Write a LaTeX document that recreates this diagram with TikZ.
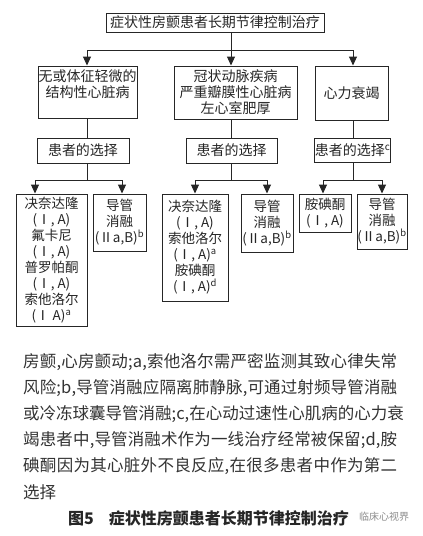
\documentclass[tikz,border=0pt]{standalone}
\usepackage{fontspec}
\setmainfont{Noto Sans CJK SC}
\usetikzlibrary{arrows.meta}
\def\myspread#1{\myspreadaux#1\relax}
\def\myspreadaux#1#2\relax{#1\myspreadi#2\relax}
\def\myspreadi#1{\ifx#1\relax\else\hskip0pt plus 1fil#1\expandafter\myspreadi\fi}
\tikzset{
 bx/.style={draw=black!85, line width=1pt, inner sep=0pt, align=center, text=black!85},
 midtxt/.style={font=\fontsize{14}{16}\selectfont},
 leaftxt/.style={font=\fontsize{13.5}{16}\selectfont},
 conn/.style={line width=1pt, draw=black!85},
 arr/.style={conn, -{Triangle[width=8pt,length=9pt]}},
 para/.style={anchor=west, inner sep=0pt, font=\fontsize{16.5}{20}\selectfont, text=black!80}
}
\begin{document}
\begin{tikzpicture}[x=1pt,y=-1pt]
\fill[white] (0,0) rectangle (423,536);
\useasboundingbox (0,0) rectangle (423,536);
% top
\node[bx,midtxt,minimum width=218pt,minimum height=19pt] (top) at (215,22.5) {症状性房颤患者长期节律控制治疗};
% middle boxes
\node[bx,midtxt,minimum width=99pt,minimum height=52pt] (m1) at (87.5,92) {无或体征轻微的\\结构性心脏病\\\mbox{}};
\node[bx,midtxt,minimum width=123pt,minimum height=53pt] (m2) at (235.5,92.5) {冠状动脉疾病\\严重瓣膜性心脏病\\左心室肥厚};
\node[bx,midtxt,minimum width=73pt,minimum height=54pt] (m3) at (351.5,93) {心力衰竭};
% choice boxes
\node[bx,midtxt,minimum width=92pt,minimum height=25pt] (p1) at (83,150.5) {患者的选择};
\node[bx,midtxt,minimum width=91pt,minimum height=25pt] (p2) at (231.5,150.5) {患者的选择};
\node[bx,midtxt,minimum width=75pt,minimum height=24pt] (p3) at (352.5,150) {患者的选择\textsuperscript{c}};
% leaves
\node[bx,leaftxt,minimum width=71pt,minimum height=132pt] (l1a) at (51.5,260) {决奈达隆\\(Ⅰ, A)\\氟卡尼\\(Ⅰ, A)\\普罗帕酮\\(Ⅰ, A)\\索他洛尔\\(Ⅰ A)\textsuperscript{a}};
\node[bx,leaftxt,minimum width=53pt,minimum height=57pt] (l1b) at (119.5,222.5) {导管\\消融\\(Ⅱa,B)\textsuperscript{b}};
\node[bx,leaftxt,minimum width=66pt,minimum height=107pt] (l2a) at (195,247.5) {决奈达隆\\(Ⅰ, A)\\索他洛尔\\(Ⅰ, A)\textsuperscript{a}\\胺碘酮\\(Ⅰ, A)\textsuperscript{d}};
\node[bx,leaftxt,minimum width=52pt,minimum height=58pt] (l2b) at (267,223) {导管\\消融\\(Ⅱa,B)\textsuperscript{b}};
\node[bx,leaftxt,minimum width=52pt,minimum height=38pt] (l3a) at (325,213) {胺碘酮\\(Ⅰ, A)};
\node[bx,leaftxt,minimum width=50pt,minimum height=55pt] (l3b) at (382,221.5) {导管\\消融\\(Ⅱa,B)\textsuperscript{b}};
% first bus
\coordinate (b1) at (87,50);
\coordinate (b0) at (231,50);
\coordinate (b3) at (353,50);
\draw[conn] (top.south -| b0) -- (b0);
\draw[conn] (b1) -- (b3);
\draw[arr] (b1) -- (b1 |- m1.north);
\draw[arr] (b0) -- (b0 |- m2.north);
\draw[arr] (b3) -- (b3 |- m3.north);
\draw[conn] (b1 |- m1.south) -- (b1 |- p1.north);
\draw[conn] (b0 |- m2.south) -- (b0 |- p2.north);
\draw[conn] (b3 |- m3.south) -- (b3 |- p3.north);
% second buses
\coordinate (s1) at (87,180);
\coordinate (s1a) at (35,180);
\coordinate (s1b) at (122,180);
\coordinate (s2) at (231,180);
\coordinate (s2a) at (195,180);
\coordinate (s2b) at (267,180);
\coordinate (s3) at (353,180);
\coordinate (s3a) at (323,180);
\coordinate (s3b) at (382,180);
\draw[conn] (s1 |- p1.south) -- (s1);
\draw[conn] (s1a) -- (s1b);
\draw[arr] (s1a) -- (s1a |- l1a.north);
\draw[arr] (s1b) -- (s1b |- l1b.north);
\draw[conn] (s2 |- p2.south) -- (s2);
\draw[conn] (s2a) -- (s2b);
\draw[arr] (s2a) -- (s2a |- l2a.north);
\draw[arr] (s2b) -- (s2b |- l2b.north);
\draw[conn] (s3 |- p3.south) -- (s3);
\draw[conn] (s3a) -- (s3b);
\draw[arr] (s3a) -- (s3a |- l3a.north);
\draw[arr] (s3b) -- (s3b |- l3b.north);
% notes
\node[para] (t1) at (23,362) {\hbox to 374pt{\myspread{房颤,心房颤动;a,索他洛尔需严密监测其致心律失常}}};
\node[para] (t2) at (23,388) {\hbox to 374pt{\myspread{风险;b,导管消融应隔离肺静脉,可通过射频导管消融}}};
\node[para] (t3) at (23,414) {\hbox to 374pt{\myspread{或冷冻球囊导管消融;c,在心动过速性心肌病的心力衰}}};
\node[para] (t4) at (23,440) {\hbox to 374pt{\myspread{竭患者中,导管消融术作为一线治疗经常被保留;d,胺}}};
\node[para] (t5) at (23,466) {\hbox to 374pt{\myspread{碘酮因为其心脏外不良反应,在很多患者中作为第二}}};
\node[para] (t6) at (23,492) {选择};
% caption
\node[anchor=west,inner sep=0pt,font=\fontsize{16}{18}\selectfont\bfseries,text=black!85] (cap) at (68,518) {图5\hspace{15pt}症状性房颤患者长期节律控制治疗};
\node[inner sep=1pt,fill=white,fill opacity=0.6,text opacity=1,font=\fontsize{10}{12}\selectfont,text=black!45] (wm) at (384,517) {临床心视界};
\end{tikzpicture}
\end{document}
